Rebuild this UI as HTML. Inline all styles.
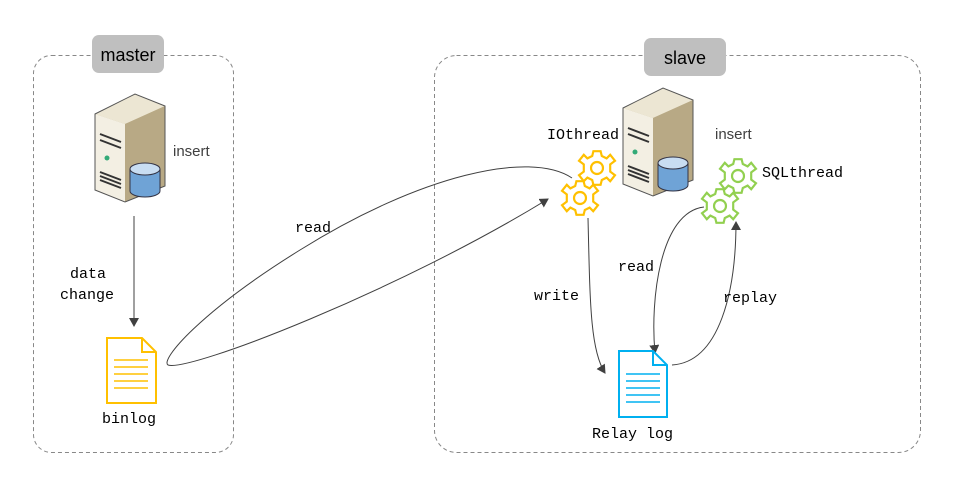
<!DOCTYPE html>
<html><head><meta charset="utf-8"><style>body{margin:0;background:#fff}svg{display:block}</style></head><body>
<svg width="974" height="496" viewBox="0 0 974 496" xmlns="http://www.w3.org/2000/svg">
<defs>
<marker id="ar" markerWidth="10" markerHeight="10" refX="8" refY="5" orient="auto" markerUnits="userSpaceOnUse"><path d="M0,0 L9,5 L0,10 z" fill="#404040"/></marker>
<g id="srv">
<path d="M0,20 L40,0 L70,12 L70,92 L30,108 L0,96 z" fill="#c9bc9a"/>
<path d="M0,20 L40,0 L70,12 L30,30 z" fill="#ece6d3"/>
<path d="M0,20 L30,30 L30,108 L0,96 z" fill="#f3efe3"/>
<path d="M30,30 L70,12 L70,92 L30,108 z" fill="#b8a985"/>
<path d="M0,20 L40,0 L70,12 L70,92 L30,108 L0,96 z" fill="none" stroke="#555" stroke-width="1"/>
<path d="M5,40 L26,48 M5,46 L26,54 M5,78 L26,86 M5,82 L26,90 M5,86 L26,94" stroke="#333" stroke-width="2"/>
<circle cx="12" cy="64" r="2.5" fill="#3a7"/>
<path d="M35,75 v22 a15,6 0 0 0 30,0 v-22" fill="#6fa3d6" stroke="#334" stroke-width="1"/>
<ellipse cx="50" cy="75" rx="15" ry="6" fill="#c8ddf2" stroke="#334" stroke-width="1"/>
</g>
<g id="gear" fill="none" stroke-width="1.8" transform="scale(1.2)">
<path d="M-3,-14 L3,-14 L4,-10 L8,-8 L11,-11 L15,-6 L11,-3 L11,3 L15,6 L11,11 L8,8 L4,10 L3,14 L-3,14 L-4,10 L-8,8 L-11,11 L-15,6 L-11,3 L-11,-3 L-15,-6 L-11,-11 L-8,-8 L-4,-10 z"/>
<circle r="5"/>
</g>
</defs>
<rect x="33.5" y="55.5" width="200" height="397" rx="18" fill="none" stroke="#888" stroke-dasharray="4,3"/>
<rect x="434.5" y="55.5" width="486" height="397" rx="22" fill="none" stroke="#888" stroke-dasharray="4,3"/>
<rect x="92" y="35" width="72" height="38" rx="7" fill="#bfbfbf"/>
<text x="128" y="61" font-family="Liberation Sans, sans-serif" font-size="18" text-anchor="middle" fill="#000">master</text>
<rect x="644" y="38" width="82" height="38" rx="7" fill="#bfbfbf"/>
<text x="685" y="64" font-family="Liberation Sans, sans-serif" font-size="18" text-anchor="middle" fill="#000">slave</text>
<use href="#srv" x="95" y="94"/>
<use href="#srv" x="623" y="88"/>
<g font-family="Liberation Sans, sans-serif" font-size="15" fill="#404040">
<text x="173" y="156">insert</text><text x="715" y="139">insert</text></g>
<g stroke="#FFC000"><use href="#gear" x="597" y="168"/><use href="#gear" x="580" y="198"/></g>
<g stroke="#92D050"><use href="#gear" x="738" y="176"/><use href="#gear" x="720" y="206"/></g>
<g fill="none" stroke="#404040" stroke-width="1">
<line x1="134" y1="216" x2="134" y2="326" marker-end="url(#ar)"/>
<path d="M572,178 C530,150 420,175 300,250 C200,312 160,360 168,365 C190,372 400,290 548,199" marker-end="url(#ar)"/>
<path d="M588,218 C590,300 590,350 605,373" marker-end="url(#ar)"/>
<path d="M704,207 C660,212 650,300 655,353" marker-end="url(#ar)"/>
<path d="M672,365 C720,362 736,290 736,222" marker-end="url(#ar)"/>
</g>
<g fill="#fff" stroke="#FFC000" stroke-width="2"><path d="M107,338 H142 L156,352 V403 H107 z"/><path d="M142,338 V352 H156" fill="none"/></g>
<g stroke="#FFC000" stroke-width="1.5"><path d="M114,360 H148 M114,367 H148 M114,374 H148 M114,381 H148 M114,388 H148"/></g>
<g fill="#fff" stroke="#00B0F0" stroke-width="2"><path d="M619,351 H653 L667,365 V417 H619 z"/><path d="M653,351 V365 H667" fill="none"/></g>
<g stroke="#00B0F0" stroke-width="1.5"><path d="M626,374 H660 M626,381 H660 M626,388 H660 M626,395 H660 M626,402 H660"/></g>
<g font-family="Liberation Mono, monospace" font-size="15" fill="#000">
<text x="70" y="278">data</text><text x="60" y="299">change</text>
<text x="102" y="423">binlog</text>
<text x="295" y="232">read</text>
<text x="547" y="139">IOthread</text>
<text x="762" y="177">SQLthread</text>
<text x="534" y="300">write</text>
<text x="618" y="271">read</text>
<text x="723" y="302">replay</text>
<text x="592" y="438">Relay log</text>
</g>
</svg>
</body></html>
